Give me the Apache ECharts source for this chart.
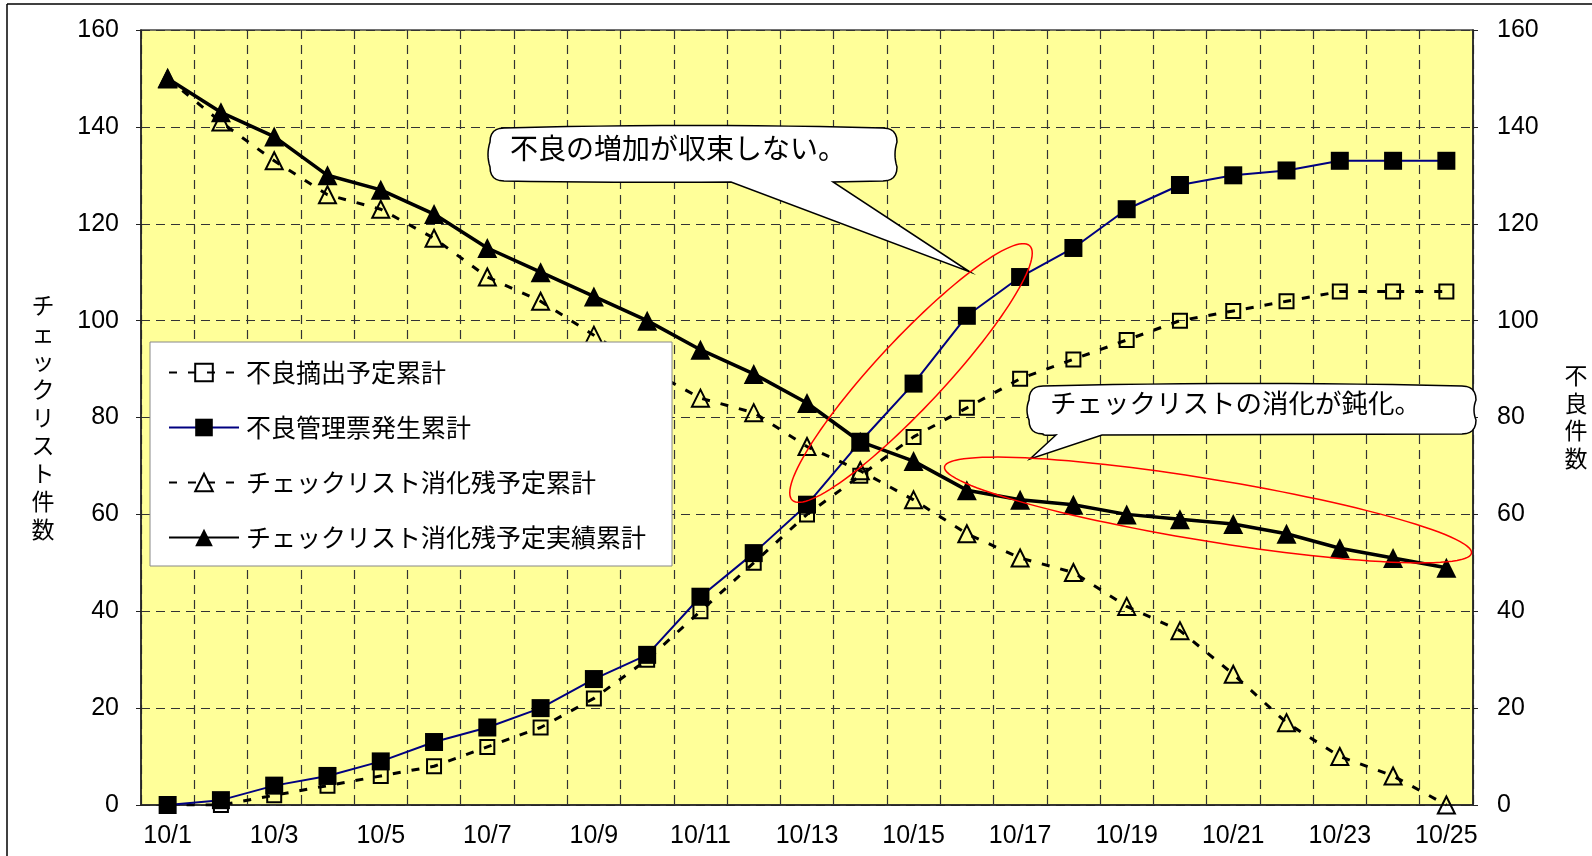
<!DOCTYPE html>
<html><head><meta charset="utf-8">
<script src="https://cdn.jsdelivr.net/npm/echarts@6/dist/echarts.min.js"></script>
<style>html,body{margin:0;padding:0;background:#fff;overflow:hidden}#c{width:1592px;height:856px}</style>
</head><body><div id="c"></div>
<script>
const categories = ['10/1','10/2','10/3','10/4','10/5','10/6','10/7','10/8','10/9','10/10','10/11','10/12','10/13','10/14','10/15','10/16','10/17','10/18','10/19','10/20','10/21','10/22','10/23','10/24','10/25'];
const seriesNames = ['不良摘出予定累計','不良管理票発生累計','チェックリスト消化残予定累計','チェックリスト消化残予定実績累計'];
const defectPlanned = [0,0,2,4,6,8,12,16,22,30,40,50,60,68,76,82,88,92,96,100,102,104,106,106,106];
const defectActual  = [0,1,4,6,9,13,16,20,26,31,43,52,62,75,87,101,109,115,123,128,130,131,133,133,133];
const checkPlanned  = [150,141,133,126,123,117,109,104,97,90,84,81,74,69,63,56,51,48,41,36,27,17,10,6,0];
const checkActual   = [150,143,138,130,127,122,115,110,105,100,94,89,83,75,71,65,63,62,60,59,58,56,53,51,49];
const yTicks = {min:0, max:160, interval:20};
const leftAxisName = 'チェックリスト件数';
const rightAxisName = '不良件数';
const callout1 = '不良の増加が収束しない。';
const callout2 = 'チェックリストの消化が鈍化。';

const JP = '"Noto Sans CJK JP","Noto Sans",sans-serif';
const NUM = '"Liberation Sans",Arial,sans-serif';
const dash = {color:'#333', width:1.2, type:[9,6]};

function quad(pts, p0, c, p1, n){
  for(let i=1;i<=n;i++){const t=i/n, u=1-t;
    pts.push([u*u*p0[0]+2*u*t*c[0]+t*t*p1[0], u*u*p0[1]+2*u*t*c[1]+t*t*p1[1]]);}
}
function calloutPoints(x0,y0,x1,y1,bx0,bx1,tx,ty){
  const r=14, pts=[[x0+r,y0]], mx=(x0+x1)/2;
  quad(pts,[x0+r,y0],[mx,y0-5],[x1-r,y0],12);
  quad(pts,[x1-r,y0],[x1,y0],[x1,y0+r],6);
  quad(pts,[x1,y0+r],[x1-4,(y0+y1)/2],[x1,y1-r],8);
  quad(pts,[x1,y1-r],[x1,y1],[x1-r,y1],6);
  pts.push([bx1,y1+1]); pts.push([tx,ty]); pts.push([bx0,y1+1]);
  quad(pts,[bx0,y1+1],[(bx0+x0)/2,y1+2],[x0+r,y1],8);
  quad(pts,[x0+r,y1],[x0,y1],[x0,y1-r],6);
  quad(pts,[x0,y1-r],[x0-4,(y0+y1)/2],[x0,y0+r],8);
  quad(pts,[x0,y0+r],[x0,y0],[x0+r,y0],6);
  return pts;
}
function ellipsePoints(cx,cy,rx,ry,deg){
  const a=-deg*Math.PI/180, pts=[];
  for(let i=0;i<120;i++){const t=i/120*2*Math.PI, ex=rx*Math.cos(t), ey=ry*Math.sin(t);
    pts.push([cx+ex*Math.cos(a)-ey*Math.sin(a), cy+ex*Math.sin(a)+ey*Math.cos(a)]);}
  return pts;
}

const chart = echarts.init(document.getElementById('c'), null, {renderer:'canvas'});
const yAxisBase = {
  type:'value', min:yTicks.min, max:yTicks.max, interval:yTicks.interval,
  axisLine:{show:true, lineStyle:{color:'#222', width:1.5}},
  axisTick:{show:true, length:5, lineStyle:{color:'#222'}},
  axisLabel:{fontSize:25, fontFamily:NUM, color:'#000', margin:22}
};
chart.setOption({
  animation:false,
  backgroundColor:'#fff',
  grid:{left:141, right:119, top:30, bottom:51, show:true, backgroundColor:'#FFFF99', borderColor:'#444', borderWidth:1.5},
  legend:{
    orient:'vertical', left:150, top:342,
    data:seriesNames,
    backgroundColor:'#fff', borderColor:'#888', borderWidth:1,
    padding:[18,26,16,18],
    itemWidth:70, itemHeight:22, itemGap:30,
    textStyle:{fontSize:25, fontFamily:JP, color:'#000', padding:[0,0,0,2]}
  },
  xAxis:{
    type:'category', data:categories, boundaryGap:true,
    axisLine:{show:true, lineStyle:{color:'#222', width:1.5}},
    axisTick:{show:false},
    axisLabel:{interval:1, fontSize:25, fontFamily:NUM, color:'#000', margin:19},
    splitLine:{show:true, interval:0, lineStyle:dash}
  },
  yAxis:[
    Object.assign({}, yAxisBase, {position:'left', splitLine:{show:true, lineStyle:dash}}),
    Object.assign({}, yAxisBase, {position:'right', splitLine:{show:false}, axisLabel:{fontSize:25, fontFamily:NUM, color:'#000', margin:24}})
  ],
  series:[
    {name:seriesNames[0], type:'line', yAxisIndex:1, data:defectPlanned,
     symbol:'rect', symbolSize:14,
     itemStyle:{color:'rgba(255,255,153,0)', borderColor:'#000', borderWidth:2},
     lineStyle:{color:'#000', width:3, type:[8,11]}},
    {name:seriesNames[1], type:'line', yAxisIndex:1, data:defectActual,
     symbol:'rect', symbolSize:18,
     itemStyle:{color:'#000', borderColor:'#000', borderWidth:0},
     lineStyle:{color:'#000080', width:2}},
    {name:seriesNames[2], type:'line', yAxisIndex:0, data:checkPlanned,
     symbol:'triangle', symbolSize:17,
     itemStyle:{color:'rgba(255,255,153,0)', borderColor:'#000', borderWidth:2},
     lineStyle:{color:'#000', width:3, type:[8,11]}},
    {name:seriesNames[3], type:'line', yAxisIndex:0, data:checkActual,
     symbol:'triangle', symbolSize:20,
     itemStyle:{color:'#000'},
     lineStyle:{color:'#000', width:3.5}}
  ],
  graphic:[
    {type:'line', z:100, shape:{x1:7,y1:4,x2:1592,y2:4}, style:{stroke:'#000', lineWidth:1.5}},
    {type:'line', z:100, shape:{x1:7,y1:4,x2:7,y2:856}, style:{stroke:'#000', lineWidth:1.5}},
    {type:'text', z:100, x:43, y:417, style:{text:leftAxisName.split('').join('\n'), font:'23px '+JP, fill:'#000', align:'center', verticalAlign:'middle', lineHeight:28}},
    {type:'text', z:100, x:1576, y:417, style:{text:rightAxisName.split('').join('\n'), font:'23px '+JP, fill:'#000', align:'center', verticalAlign:'middle', lineHeight:27.5}},
    {type:'polygon', z:100, shape:{points:calloutPoints(490,128,897,181,731,833,970,272)}, style:{fill:'#fff', stroke:'#000', lineWidth:1.5}},
    {type:'text', z:101, x:510, y:148, style:{text:callout1, font:'28px '+JP, fill:'#000', verticalAlign:'middle'}},
    {type:'polygon', z:100, shape:{points:calloutPoints(1029,386,1476,434,1056,1102,1030,459)}, style:{fill:'#fff', stroke:'#000', lineWidth:1.5}},
    {type:'text', z:101, x:1050, y:403, style:{text:callout2, font:'26.5px '+JP, fill:'#000', verticalAlign:'middle'}},
    {type:'polygon', z:102, shape:{points:ellipsePoints(911,373,174,34,47)}, style:{fill:'none', stroke:'#f00', lineWidth:1.5}},
    {type:'polygon', z:102, shape:{points:ellipsePoints(1208,510,267,31,-9.3)}, style:{fill:'none', stroke:'#f00', lineWidth:1.5}}
  ]
});
</script>
</body></html>
